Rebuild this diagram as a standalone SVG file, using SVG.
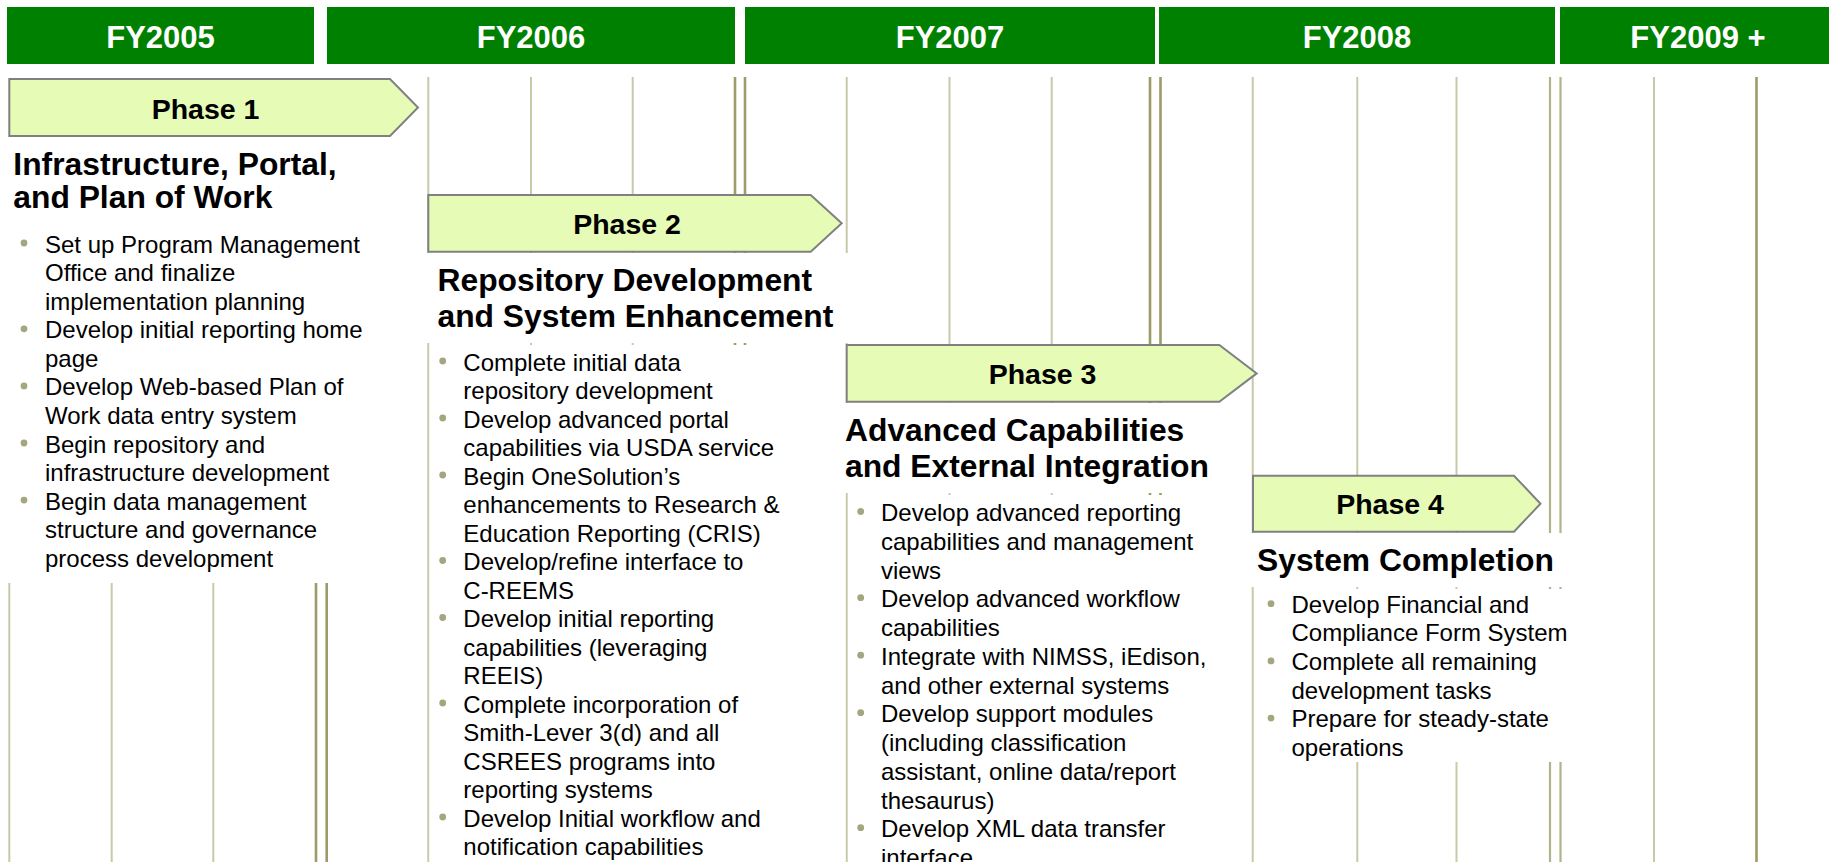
<svg xmlns="http://www.w3.org/2000/svg" width="1829" height="862" viewBox="0 0 1829 862">
<style>
.bg{fill:#ffffff}
.bar{fill:#008000}
.fy{font-family:'Liberation Sans',Arial,sans-serif;font-weight:bold;font-size:31px;fill:#ffffff;text-anchor:middle}
.gl{stroke:#c9c9aa;stroke-width:2;fill:none}
.gm{stroke:#b3b38a;stroke-width:2.2;fill:none}
.gd{stroke:#9c9c6a;stroke-width:2.6;fill:none}
.blk{fill:#ffffff}
.box{fill:#e5fbb6;stroke:#808080;stroke-width:2}
.lbl{font-family:'Liberation Sans',Arial,sans-serif;font-weight:bold;font-size:28.5px;fill:#000;text-anchor:middle}
.ttl{font-family:'Liberation Sans',Arial,sans-serif;font-weight:bold;font-size:31.8px;fill:#000}
.txt{font-family:'Liberation Sans',Arial,sans-serif;font-size:24px;fill:#000}
.dot{fill:#a6a67e}
</style>
<rect class="bg" x="0" y="0" width="1829" height="862"/>

<g id="headers">
  <g id="fy2005"><rect class="bar" x="7" y="7" width="307" height="57"/><text class="fy" x="160.5" y="47.7">FY2005</text></g>
  <g id="fy2006"><rect class="bar" x="327" y="7" width="408" height="57"/><text class="fy" x="531" y="47.7">FY2006</text></g>
  <g id="fy2007"><rect class="bar" x="745" y="7" width="410" height="57"/><text class="fy" x="950" y="47.7">FY2007</text></g>
  <g id="fy2008"><rect class="bar" x="1159" y="7" width="396" height="57"/><text class="fy" x="1357" y="47.7">FY2008</text></g>
  <g id="fy2009"><rect class="bar" x="1560" y="7" width="269" height="57"/><text class="fy" x="1698" y="47.7">FY2009 +</text></g>
</g>

<g id="connectors">
  <line class="gl" x1="9.3" y1="77" x2="9.3" y2="862"/>
  <line class="gl" x1="111.7" y1="77" x2="111.7" y2="862"/>
  <line class="gl" x1="213.3" y1="77" x2="213.3" y2="862"/>
  <line class="gd" x1="316" y1="77" x2="316" y2="862"/>
  <line class="gd" x1="326.7" y1="77" x2="326.7" y2="862"/>
  <line class="gl" x1="428.3" y1="77" x2="428.3" y2="862"/>
  <line class="gl" x1="531" y1="77" x2="531" y2="862"/>
  <line class="gl" x1="632.7" y1="77" x2="632.7" y2="862"/>
  <line class="gd" x1="735" y1="77" x2="735" y2="862"/>
  <line class="gd" x1="745" y1="77" x2="745" y2="862"/>
  <line class="gl" x1="846.7" y1="77" x2="846.7" y2="862"/>
  <line class="gl" x1="949.5" y1="77" x2="949.5" y2="862"/>
  <line class="gl" x1="1051.7" y1="77" x2="1051.7" y2="862"/>
  <line class="gd" x1="1150" y1="77" x2="1150" y2="862"/>
  <line class="gd" x1="1160.5" y1="77" x2="1160.5" y2="862"/>
  <line class="gl" x1="1252.7" y1="77" x2="1252.7" y2="862"/>
  <line class="gl" x1="1357.3" y1="77" x2="1357.3" y2="862"/>
  <line class="gl" x1="1456.5" y1="77" x2="1456.5" y2="862"/>
  <line class="gm" x1="1550" y1="77" x2="1550" y2="862"/>
  <line class="gm" x1="1560.5" y1="77" x2="1560.5" y2="862"/>
  <line class="gl" x1="1654" y1="77" x2="1654" y2="862"/>
  <line class="gd" x1="1756.5" y1="77" x2="1756.5" y2="862"/>
</g>

<g id="phase1">
  <rect class="blk" x="-1" y="66" width="424" height="517"/>
  <polygon class="box" points="9.3,79 390,79 418,107.5 390,136 9.3,136"/>
  <text class="lbl" x="205.5" y="119.3">Phase 1</text>
  <text class="ttl" x="13.3" y="175">Infrastructure, Portal,</text>
  <text class="ttl" x="13.3" y="208.3">and Plan of Work</text>
  <circle class="dot" cx="24" cy="243" r="3.4"/>
  <circle class="dot" cx="24" cy="328.8" r="3.4"/>
  <circle class="dot" cx="24" cy="385.9" r="3.4"/>
  <circle class="dot" cx="24" cy="443" r="3.4"/>
  <circle class="dot" cx="24" cy="500.1" r="3.4"/>
  <text class="txt" x="45" y="252.7">Set up Program Management</text>
  <text class="txt" x="45" y="281.25">Office and finalize</text>
  <text class="txt" x="45" y="309.8">implementation planning</text>
  <text class="txt" x="45" y="338.35">Develop initial reporting home</text>
  <text class="txt" x="45" y="366.9">page</text>
  <text class="txt" x="45" y="395.45">Develop Web-based Plan of</text>
  <text class="txt" x="45" y="424">Work data entry system</text>
  <text class="txt" x="45" y="452.55">Begin repository and</text>
  <text class="txt" x="45" y="481.1">infrastructure development</text>
  <text class="txt" x="45" y="509.65">Begin data management</text>
  <text class="txt" x="45" y="538.2">structure and governance</text>
  <text class="txt" x="45" y="566.75">process development</text>
</g>

<g id="phase2">
  <rect class="blk" x="426" y="253" width="425" height="90"/>
  <rect class="blk" x="429.6" y="345" width="415.8" height="520"/>
  <polygon class="box" points="428.3,195 810.7,195 841.7,223.3 810.7,251.7 428.3,251.7"/>
  <text class="lbl" x="627" y="234.3">Phase 2</text>
  <text class="ttl" x="437.5" y="291">Repository Development</text>
  <text class="ttl" x="437.5" y="326.5">and System Enhancement</text>
  <circle class="dot" cx="442.7" cy="361" r="3.4"/>
  <circle class="dot" cx="442.7" cy="418" r="3.4"/>
  <circle class="dot" cx="442.7" cy="475" r="3.4"/>
  <circle class="dot" cx="442.7" cy="560.5" r="3.4"/>
  <circle class="dot" cx="442.7" cy="617.5" r="3.4"/>
  <circle class="dot" cx="442.7" cy="703" r="3.4"/>
  <circle class="dot" cx="442.7" cy="817" r="3.4"/>
  <text class="txt" x="463.3" y="370.6">Complete initial data</text>
  <text class="txt" x="463.3" y="399.1">repository development</text>
  <text class="txt" x="463.3" y="427.6">Develop advanced portal</text>
  <text class="txt" x="463.3" y="456.1">capabilities via USDA service</text>
  <text class="txt" x="463.3" y="484.6">Begin OneSolution’s</text>
  <text class="txt" x="463.3" y="513.1">enhancements to Research &amp;</text>
  <text class="txt" x="463.3" y="541.6">Education Reporting (CRIS)</text>
  <text class="txt" x="463.3" y="570.1">Develop/refine interface to</text>
  <text class="txt" x="463.3" y="598.6">C-REEMS</text>
  <text class="txt" x="463.3" y="627.1">Develop initial reporting</text>
  <text class="txt" x="463.3" y="655.6">capabilities (leveraging</text>
  <text class="txt" x="463.3" y="684.1">REEIS)</text>
  <text class="txt" x="463.3" y="712.6">Complete incorporation of</text>
  <text class="txt" x="463.3" y="741.1">Smith-Lever 3(d) and all</text>
  <text class="txt" x="463.3" y="769.6">CSREES programs into</text>
  <text class="txt" x="463.3" y="798.1">reporting systems</text>
  <text class="txt" x="463.3" y="826.6">Develop Initial workflow and</text>
  <text class="txt" x="463.3" y="855.1">notification capabilities</text>
</g>

<g id="phase3">
  <rect class="blk" x="844" y="403" width="406.5" height="90"/>
  <rect class="blk" x="848.2" y="495" width="402.3" height="370"/>
  <polygon class="box" points="846.7,345 1219.3,345 1256.7,373.4 1219.3,401.7 846.7,401.7"/>
  <text class="lbl" x="1042.5" y="384.3">Phase 3</text>
  <text class="ttl" x="845" y="440.7">Advanced Capabilities</text>
  <text class="ttl" x="845" y="476.7">and External Integration</text>
  <circle class="dot" cx="860.7" cy="511.5" r="3.4"/>
  <circle class="dot" cx="860.7" cy="597.7" r="3.4"/>
  <circle class="dot" cx="860.7" cy="655.2" r="3.4"/>
  <circle class="dot" cx="860.7" cy="712.7" r="3.4"/>
  <circle class="dot" cx="860.7" cy="827.7" r="3.4"/>
  <text class="txt" x="881" y="521">Develop advanced reporting</text>
  <text class="txt" x="881" y="549.75">capabilities and management</text>
  <text class="txt" x="881" y="578.5">views</text>
  <text class="txt" x="881" y="607.25">Develop advanced workflow</text>
  <text class="txt" x="881" y="636">capabilities</text>
  <text class="txt" x="881" y="664.75">Integrate with NIMSS, iEdison,</text>
  <text class="txt" x="881" y="693.5">and other external systems</text>
  <text class="txt" x="881" y="722.25">Develop support modules</text>
  <text class="txt" x="881" y="751">(including classification</text>
  <text class="txt" x="881" y="779.75">assistant, online data/report</text>
  <text class="txt" x="881" y="808.5">thesaurus)</text>
  <text class="txt" x="881" y="837.25">Develop XML data transfer</text>
  <text class="txt" x="881" y="866">interface</text>
</g>

<g id="phase4">
  <rect class="blk" x="1250.6" y="533" width="330" height="54"/>
  <rect class="blk" x="1254.2" y="589" width="326.4" height="173"/>
  <polygon class="box" points="1253,475.7 1514,475.7 1540.5,503.7 1514,531.7 1253,531.7"/>
  <text class="lbl" x="1390" y="514">Phase 4</text>
  <text class="ttl" x="1257" y="571">System Completion</text>
  <circle class="dot" cx="1271" cy="603.7" r="3.4"/>
  <circle class="dot" cx="1271" cy="660.9" r="3.4"/>
  <circle class="dot" cx="1271" cy="718.1" r="3.4"/>
  <text class="txt" x="1291.5" y="612.7">Develop Financial and</text>
  <text class="txt" x="1291.5" y="641.3">Compliance Form System</text>
  <text class="txt" x="1291.5" y="669.9">Complete all remaining</text>
  <text class="txt" x="1291.5" y="698.5">development tasks</text>
  <text class="txt" x="1291.5" y="727.1">Prepare for steady-state</text>
  <text class="txt" x="1291.5" y="755.7">operations</text>
</g>
</svg>
